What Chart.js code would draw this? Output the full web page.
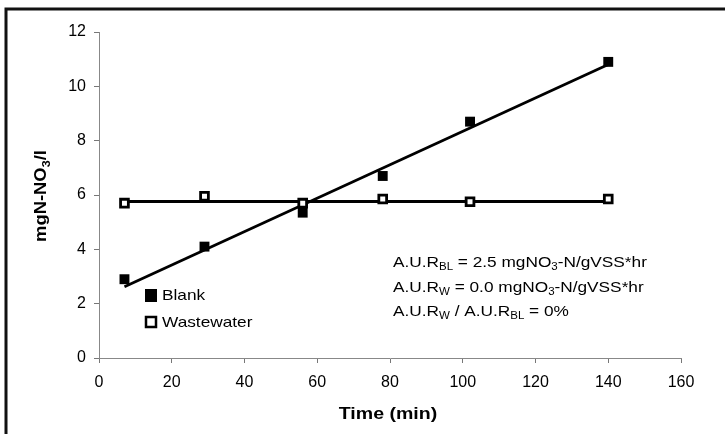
<!DOCTYPE html>
<html>
<head>
<meta charset="utf-8">
<script src="https://cdn.jsdelivr.net/npm/chart.js@4"></script>
<style>
  html, body { margin: 0; padding: 0; background: #fff; }
  #wrap { width: 725px; height: 434px; position: relative; }
</style>
</head>
<body>
<div id="wrap"><canvas id="chart"></canvas></div>
<script>
// time (min) of each sample
const times = [7, 29, 56, 78, 102, 140];
// measured nitrate, mgN-NO3/l
const blankValues = [2.9, 4.1, 5.35, 6.7, 8.7, 10.9];
const wastewaterValues = [5.7, 5.95, 5.7, 5.85, 5.75, 5.85];
// fitted lines (ends only)
const blankFitX = [7, 140];
const blankFitY = [2.62, 10.8];
const wasteFitX = [7, 140];
const wasteFitY = [5.76, 5.76];

const xTicks = [0, 20, 40, 60, 80, 100, 120, 140, 160];
const yTicks = [0, 2, 4, 6, 8, 10, 12];

const FONT = '"Liberation Sans", Arial, sans-serif';
const STRETCH = 1.15; // the scanned text is a bit wider than plain Arial

function toPoints(xs, ys) {
    return xs.map((x, i) => ({x: x, y: ys[i]}));
}

// draw text with subscripts: parts = [[text, isSub], ...]
function drawRich(ctx, parts, x, y, size, weight) {
    ctx.save();
    ctx.translate(x, y);
    ctx.scale(STRETCH, 1);
    let cx = 0;
    parts.forEach(([t, sub]) => {
        const s = sub ? Math.round(size * 0.68) : size;
        ctx.font = `${weight} ${s}px ${FONT}`;
        ctx.fillText(t, cx, sub ? size * 0.22 : 0);
        cx += ctx.measureText(t).width;
    });
    ctx.restore();
}
function richWidth(ctx, parts, size, weight) {
    let w = 0;
    parts.forEach(([t, sub]) => {
        const s = sub ? Math.round(size * 0.68) : size;
        ctx.font = `${weight} ${s}px ${FONT}`;
        w += ctx.measureText(t).width;
    });
    return w * STRETCH;
}

const extras = {
    id: 'extras',
    afterDraw(chart) {
        const ctx = chart.ctx;
        const area = chart.chartArea;
        ctx.save();
        ctx.fillStyle = '#000';
        ctx.textBaseline = 'alphabetic';
        ctx.textAlign = 'left';

        // outer frame (left and top edges)
        ctx.strokeStyle = '#111';
        ctx.lineWidth = 3;
        ctx.beginPath();
        ctx.moveTo(6, 434);
        ctx.lineTo(6, 9);
        ctx.lineTo(725, 9);
        ctx.stroke();

        // x title
        const xParts = [['Time (min)', false]];
        const xw = richWidth(ctx, xParts, 17, 'bold');
        drawRich(ctx, xParts, (area.left + area.right) / 2 - 2 - xw / 2, 419, 17, 'bold');

        // y title rotated, with subscript
        const yParts = [['mgN-NO', false], ['3', true], ['/l', false]];
        const w = richWidth(ctx, yParts, 16, 'bold');
        ctx.save();
        ctx.translate(46, 196);
        ctx.rotate(-Math.PI / 2);
        drawRich(ctx, yParts, -w / 2, 0, 16, 'bold');
        ctx.restore();

        // legend inside plot
        const lx = 145, ly1 = 295, ly2 = 322;
        ctx.fillStyle = '#000';
        ctx.fillRect(lx, ly1 - 6, 12, 13);
        ctx.strokeStyle = '#000';
        ctx.lineWidth = 2.5;
        ctx.fillStyle = '#fff';
        ctx.fillRect(lx + 1, ly2 - 5, 10, 10);
        ctx.strokeRect(lx + 1, ly2 - 5, 10, 10);
        ctx.fillStyle = '#000';
        drawRich(ctx, [['Blank', false]], lx + 17, ly1 + 5, 15, 'normal');
        drawRich(ctx, [['Wastewater', false]], lx + 17, ly2 + 5, 15, 'normal');

        // rate annotation
        const ax = 393;
        drawRich(ctx, [['A.U.R', false], ['BL', true], [' = 2.5 mgNO', false], ['3', true], ['-N/gVSS*hr', false]], ax, 267, 15, 'normal');
        drawRich(ctx, [['A.U.R', false], ['W', true], [' = 0.0 mgNO', false], ['3', true], ['-N/gVSS*hr', false]], ax, 292, 15, 'normal');
        drawRich(ctx, [['A.U.R', false], ['W', true], [' / A.U.R', false], ['BL', true], [' = 0%', false]], ax, 316, 15, 'normal');
        ctx.restore();
    }
};

new Chart(document.getElementById('chart'), {
    type: 'scatter',
    data: {
        datasets: [
            {
                label: 'Blank',
                data: toPoints(times, blankValues),
                pointStyle: 'rect',
                pointRadius: 7,
                backgroundColor: '#000',
                borderColor: '#000',
                borderWidth: 0,
                showLine: false
            },
            {
                label: 'Wastewater',
                data: toPoints(times, wastewaterValues),
                pointStyle: 'rect',
                pointRadius: 5.5,
                backgroundColor: '#fff',
                borderColor: '#000',
                borderWidth: 2.8,
                showLine: false
            },
            {
                label: 'Blank fit',
                data: toPoints(blankFitX, blankFitY),
                showLine: true,
                borderColor: '#000',
                borderWidth: 2.8,
                pointRadius: 0,
                order: 5
            },
            {
                label: 'Wastewater fit',
                data: toPoints(wasteFitX, wasteFitY),
                showLine: true,
                borderColor: '#000',
                borderWidth: 2.8,
                pointRadius: 0,
                order: 5
            }
        ]
    },
    options: {
        responsive: true,
        maintainAspectRatio: false,
        animation: false,
        layout: { padding: { left: 0, top: 32, right: 44, bottom: 0 } },
        plugins: {
            legend: { display: false },
            tooltip: { enabled: false }
        },
        scales: {
            x: {
                type: 'linear',
                min: 0, max: 160,
                afterBuildTicks: s => { s.ticks = xTicks.map(v => ({value: v})); },
                afterFit: s => { s.height = 76; },
                grid: { drawOnChartArea: false, color: '#777', tickLength: 5 },
                border: { color: '#888', dash: [2, 2], width: 1 },
                ticks: { color: '#000', font: { family: FONT, size: 16 }, padding: 10 }
            },
            y: {
                min: 0, max: 12,
                afterBuildTicks: s => { s.ticks = yTicks.map(v => ({value: v})); },
                afterFit: s => { s.width = 99; },
                grid: { drawOnChartArea: false, color: '#777', tickLength: 5 },
                border: { color: '#888', dash: [2, 2], width: 1 },
                ticks: { color: '#000', font: { family: FONT, size: 16 }, padding: 8 }
            }
        }
    },
    plugins: [extras]
});
</script>
</body>
</html>
